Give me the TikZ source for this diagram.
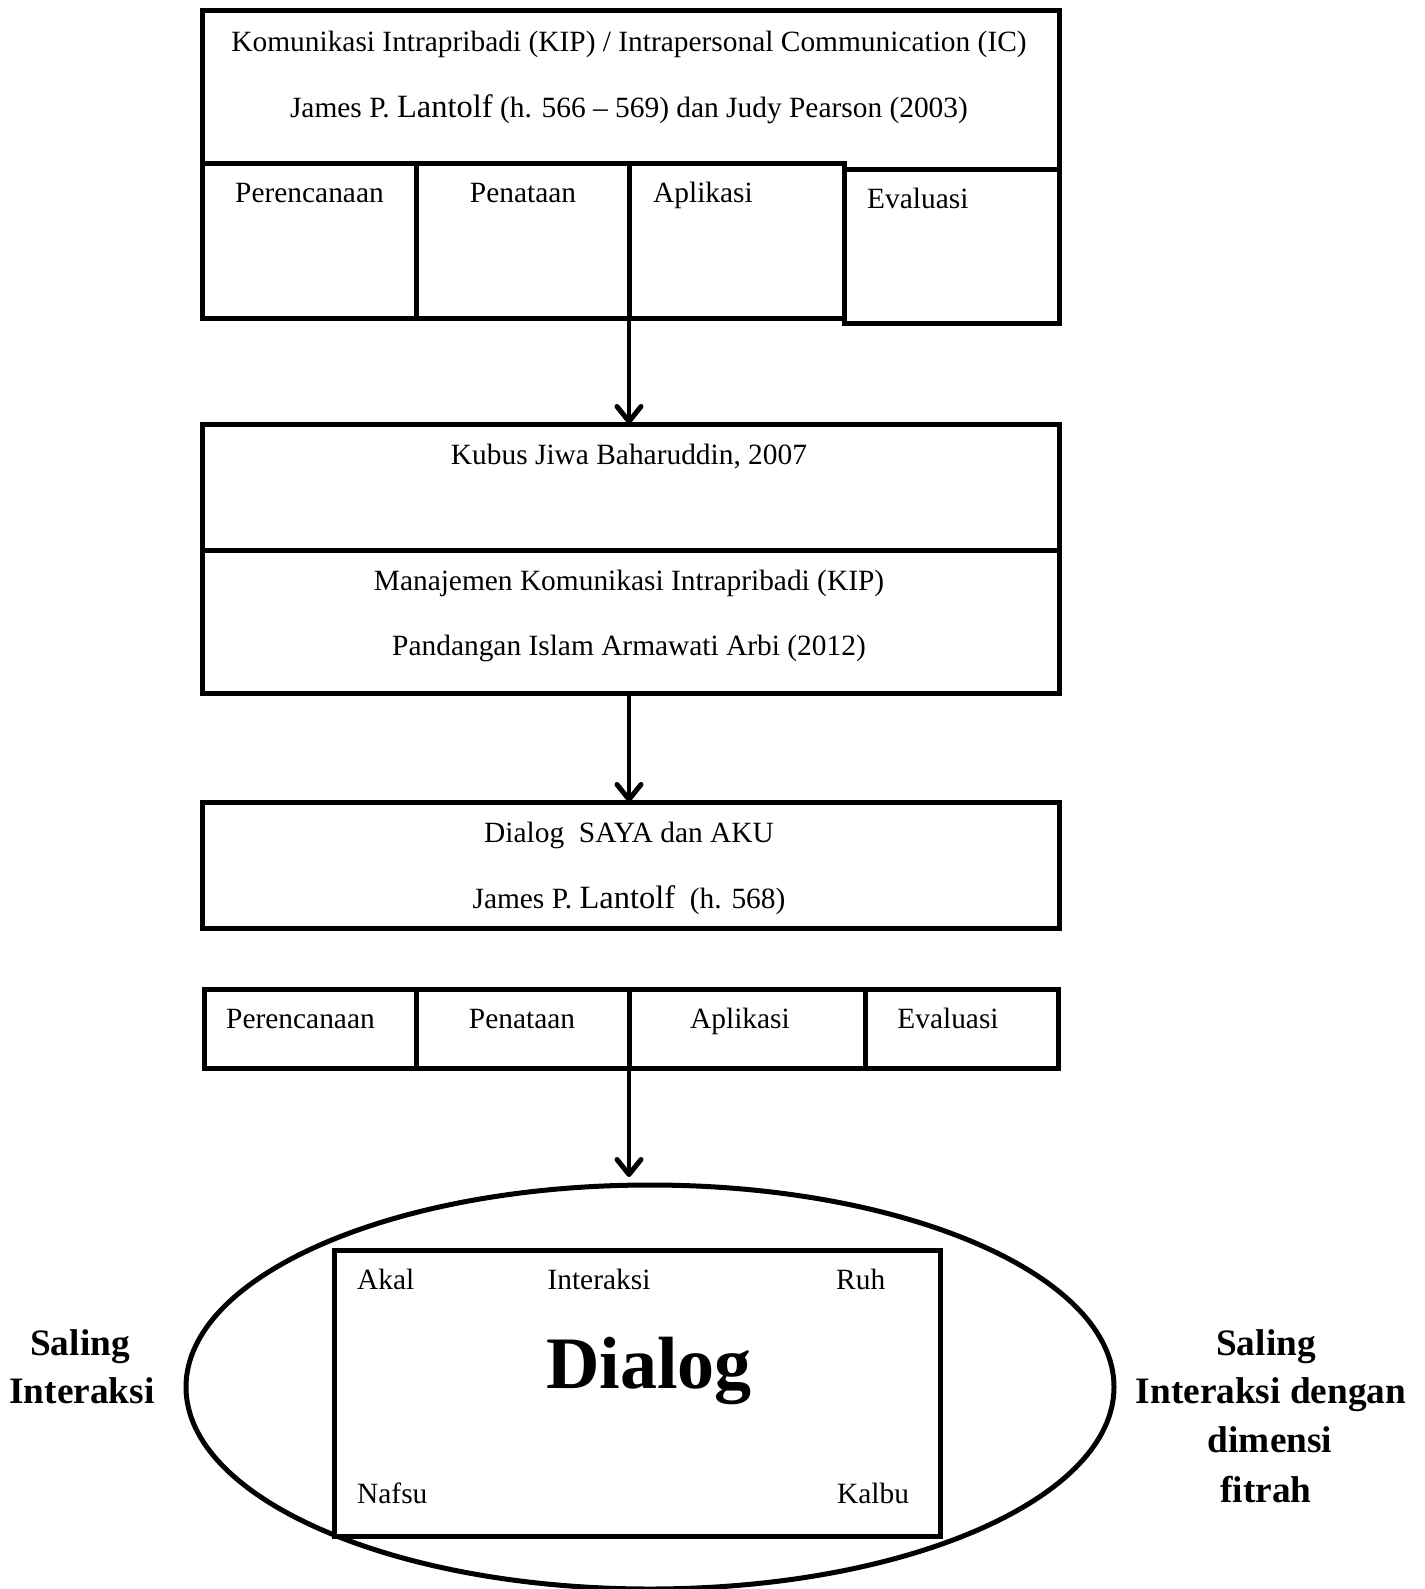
\documentclass[tikz,border=0pt]{standalone}
\usepackage{fontspec}
\setmainfont{Liberation Serif}
\usetikzlibrary{fit,shapes.geometric,arrows.meta}
\newcommand\bodyfont{\fontsize{29.4}{35}\selectfont}
\newcommand\sidefont{\bfseries\fontsize{37.3}{44}\selectfont}
\newcommand\bigfont{\bfseries\fontsize{74}{80}\selectfont}
\begin{document}
\begin{tikzpicture}[x=1pt,y=-1pt,
  boxline/.style={line width=5pt, line join=miter},
  cell/.style={draw, boxline, inner sep=0pt, outer sep=0pt},
  txt/.style={font=\bodyfont, inner sep=0pt, anchor=base},
  txtl/.style={font=\bodyfont, inner sep=0pt, anchor=base west},
  side/.style={font=\sidefont, inner sep=0pt, anchor=base},
  arr/.style={line width=4pt, -{Straight Barb[length=15pt,width=24pt,line width=5pt,round]}}]
\useasboundingbox (0,0) rectangle (1424,1589);
\clip (0,0) rectangle (1424,1589);

% ---- top block
\node[inner sep=0pt, outer sep=0pt, fit={(202,11) (1059,164)}] (hdr) {};
\draw[boxline] (hdr.south west) -- (hdr.north west) -- (hdr.north east) -- ([yshift=-6pt]hdr.south east);
\node[cell, fit={(202,164) (416,318)}] (p1) {};
\node[cell, fit={(416,164) (629,318)}] (n1) {};
\node[cell, fit={(629,164) (844,318)}] (a1) {};
\node[cell, fit={(844,170) (1059,323)}] (e1) {};
\node[txt] (t1) at (629,52) {Komunikasi Intrapribadi (KIP) / Intrapersonal Communication (IC)};
\node[txt] (t2) at (629,118) {James P. {\fontsize{32.5}{33}\selectfont Lantolf} (h. 566 -- 569) dan Judy Pearson (2003)};
\node[txtl] (p1t) at (235,203) {Perencanaan};
\node[txt] (n1t) at (523,203) {Penataan};
\node[txtl] (a1t) at (653,203) {Aplikasi};
\node[txtl] (e1t) at (867,209) {Evaluasi};

% ---- second block
\node[cell, fit={(202,424) (1059,550)}] (kubus) {};
\node[cell, fit={(202,550) (1059,693)}] (manaj) {};
\node[txt] (kt) at (629,464) {Kubus Jiwa Baharuddin, 2007};
\node[txt] (mt1) at (629,590) {Manajemen Komunikasi Intrapribadi (KIP)};
\node[txt] (mt2) at (629,655) {Pandangan Islam Armawati Arbi (2012)};

% ---- third block
\node[cell, fit={(202,802) (1059,928)}] (dsaya) {};
\node[txt] (dt1) at (629,842) {Dialog\ \ SAYA dan AKU};
\node[txt] (dt2) at (629,908) {James P. {\fontsize{32.5}{33}\selectfont Lantolf}\ \ (h. 568)};

% ---- fourth block
\node[cell, fit={(204,989) (416,1068)}] (p4) {};
\node[cell, fit={(416,989) (629,1068)}] (n4) {};
\node[cell, fit={(629,989) (865,1068)}] (a4) {};
\node[cell, fit={(865,989) (1058,1068)}] (e4) {};
\node[txtl] (p4t) at (226,1028) {Perencanaan};
\node[txt] (n4t) at (522,1028) {Penataan};
\node[txt] (a4t) at (740,1028) {Aplikasi};
\node[txt] (e4t) at (948,1028) {Evaluasi};

% ---- ellipse and core
\node[draw, ellipse, boxline, inner sep=0pt, outer sep=0pt, minimum width=928pt, minimum height=404pt] (ell) at (650,1387) {};
\node[cell, fill=white, fit={(334,1250) (940,1536)}] (core) {};
\node[txtl] (akal) at (357,1289) {Akal};
\node[txt] (inter) at (599,1289) {Interaksi};
\node[txtl] (ruh) at (836,1289) {Ruh};
\node[txtl] (nafsu) at (357,1503) {Nafsu};
\node[txtl] (kalbu) at (837,1503) {Kalbu};
\node[font=\bigfont, inner sep=0pt, anchor=base] (dlg) at (649,1388) {Dialog};

% ---- side labels
\node[side] (l1) at (80,1355) {Saling};
\node[side] (l2) at (82,1403) {Interaksi};
\node[side] (r1) at (1266,1355) {Saling};
\node[side] (r2) at (1271,1403) {Interaksi dengan};
\node[side] (r3) at (1270,1452) {dimensi};
\node[side] (r4) at (1266,1502) {fitrah};

% ---- arrows
\coordinate (tip3) at (629,1177);
\draw[arr] (a1.south west) -- (a1.south west |- kubus.north);
\draw[arr] (a1.south west |- manaj.south) -- (a1.south west |- dsaya.north);
\draw[arr] (a4.south west) -- (a4.south west |- tip3);
\end{tikzpicture}
\end{document}
